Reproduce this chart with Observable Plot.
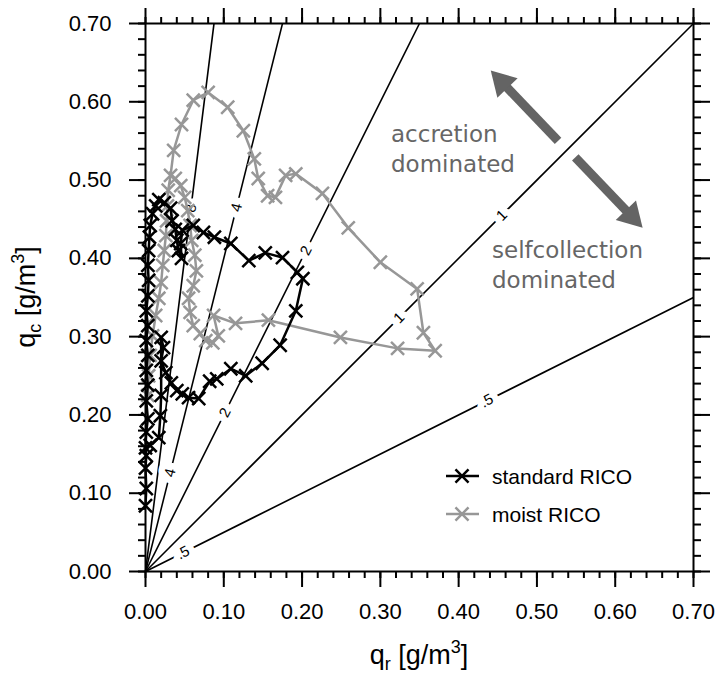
<!DOCTYPE html>
<html><head><meta charset="utf-8">
<script src="https://cdn.jsdelivr.net/npm/d3@7"></script>
<script src="https://cdn.jsdelivr.net/npm/@observablehq/plot@0.6"></script>
<style>body{margin:0;background:#fff} #chart{width:717px;height:679px}</style>
</head><body><div id="chart"></div>
<script>
// ---- data (g/m^3) ----
const standardQr = [0.000,0.001,0.000,0.001,0.000,0.001,0.003,0.001,0.003,0.001,0.003,0.001,0.003,0.001,0.003,0.004,0.003,0.004,0.005,0.006,0.009,0.013,0.017,0.024,0.032,0.034,0.038,0.040,0.042,0.046,0.045,0.047,0.061,0.074,0.088,0.109,0.132,0.153,0.175,0.194,0.201,0.192,0.172,0.149,0.128,0.109,0.091,0.082,0.068,0.055,0.047,0.040,0.033,0.026,0.020,0.023,0.020,0.020,0.019,0.017,0.006];
const standardQc = [0.084,0.106,0.132,0.148,0.158,0.178,0.195,0.218,0.238,0.257,0.276,0.295,0.314,0.333,0.352,0.372,0.391,0.410,0.427,0.442,0.457,0.467,0.475,0.471,0.464,0.448,0.437,0.423,0.410,0.400,0.419,0.436,0.442,0.433,0.427,0.419,0.397,0.407,0.401,0.382,0.374,0.333,0.289,0.266,0.250,0.259,0.246,0.243,0.221,0.222,0.227,0.231,0.241,0.254,0.269,0.286,0.299,0.225,0.199,0.171,0.161];
const moistQr = [0.003,0.004,0.006,0.009,0.013,0.017,0.020,0.022,0.024,0.026,0.027,0.028,0.029,0.032,0.036,0.046,0.061,0.080,0.105,0.125,0.139,0.144,0.156,0.166,0.179,0.192,0.226,0.259,0.300,0.347,0.355,0.370,0.322,0.249,0.157,0.115,0.087,0.093,0.086,0.077,0.070,0.061,0.057,0.055,0.061,0.065,0.063,0.059,0.057,0.054,0.050,0.045,0.038];
const moistQc = [0.225,0.250,0.276,0.301,0.327,0.349,0.369,0.391,0.410,0.429,0.448,0.467,0.487,0.506,0.538,0.571,0.602,0.612,0.593,0.563,0.527,0.502,0.480,0.478,0.506,0.508,0.483,0.439,0.395,0.361,0.305,0.282,0.285,0.299,0.321,0.317,0.327,0.301,0.292,0.295,0.304,0.314,0.331,0.349,0.365,0.384,0.404,0.423,0.442,0.461,0.478,0.493,0.502];

// ratio lines qc = k * qr and their labels
const ratios = [0.5, 1, 2, 4, 8];
const ratioLabelK  = [0.5, 0.5, 1, 1, 2, 2, 4, 4, 8];
const ratioLabelQc = [0.024, 0.218, 0.324, 0.455, 0.203, 0.410, 0.126, 0.465, 0.464];

const majorTicks = [0, 0.1, 0.2, 0.3, 0.4, 0.5, 0.6, 0.7];
const minorTicks = d3.range(0, 36).map(i => +(i * 0.02).toFixed(2)).filter(v => v <= 0.7);

// annotation arrows (tail -> tip)
const arrowTailQr = [0.527, 0.549];
const arrowTailQc = [0.550, 0.529];
const arrowTipQr  = [0.441, 0.635];
const arrowTipQc  = [0.640, 0.439];

const seriesNames = ["standard RICO", "moist RICO"];
const seriesColors = ["#000000", "#979797"];
const annotationLines = [["accretion", "dominated"], ["selfcollection", "dominated"]];

// ---- layout ----
const W = 717, H = 679, mL = 145, mR = 24, mT = 23, mB = 108;
const pxPerUnit = (W - mL - mR) / 0.7;
const fontSans = "'Liberation Sans', Arial, Helvetica, sans-serif";

// arrow geometry (data units)
const headSide = 28;
const triY = headSide / (2 * Math.sqrt(3));
const triSize = triY * triY * Math.sqrt(3) * 3;
const triR = Math.sqrt(triSize / Math.PI);
const arrows = arrowTailQr.map((_, i) => {
  const dx = arrowTipQr[i] - arrowTailQr[i], dy = arrowTipQc[i] - arrowTailQc[i];
  const len = Math.hypot(dx, dy);
  const ux = dx / len, uy = dy / len;
  const c = 2 * triY / pxPerUnit, b = 2.6 * triY / pxPerUnit;
  return {
    x1: arrowTailQr[i], y1: arrowTailQc[i],
    x2: arrowTipQr[i] - ux * b, y2: arrowTipQc[i] - uy * b,
    cx: arrowTipQr[i] - ux * c, cy: arrowTipQc[i] - uy * c,
    rot: Math.atan2(dx, dy) * 180 / Math.PI
  };
});

const std = standardQr.map((x, i) => ({x, y: standardQc[i]}));
const moist = moistQr.map((x, i) => ({x, y: moistQc[i]}));
const labels = ratioLabelK.map((k, i) => ({k, y: ratioLabelQc[i], x: ratioLabelQc[i] / k}));
const fmtK = k => k === 0.5 ? ".5" : String(k);

const axisCommon = {strokeWidth: 2, label: null, fontSize: 22, fontFamily: fontSans};
const noText = () => "";

const chart = Plot.plot({
  width: W, height: H,
  marginLeft: mL, marginRight: mR, marginTop: mT, marginBottom: mB,
  x: {domain: [0, 0.7]},
  y: {domain: [0, 0.7]},
  style: {fontFamily: fontSans, fontSize: "22px", color: "black", background: "white"},
  marks: [
    Plot.link(ratios, {x1: 0, y1: 0, x2: k => k <= 1 ? 0.7 : 0.7 / k, y2: k => k <= 1 ? 0.7 * k : 0.7, stroke: "black", strokeWidth: 1.6}),
    Plot.text(labels, {x: "x", y: "y", text: d => fmtK(d.k), rotate: d => -Math.atan(d.k) * 180 / Math.PI,
      fill: "black", stroke: "white", strokeWidth: 13, fontSize: 15, fontFamily: fontSans}),
    Plot.line(moist, {x: "x", y: "y", stroke: seriesColors[1], strokeWidth: 2.5}),
    Plot.dot(moist, {x: "x", y: "y", symbol: "times", r: 6, stroke: seriesColors[1], strokeWidth: 2.5}),
    Plot.line(std, {x: "x", y: "y", stroke: seriesColors[0], strokeWidth: 2.5}),
    Plot.dot(std, {x: "x", y: "y", symbol: "times", r: 6, stroke: seriesColors[0], strokeWidth: 2.5}),
    Plot.link(arrows, {x1: "x1", y1: "y1", x2: "x2", y2: "y2", stroke: "#646464", strokeWidth: 9, strokeLinecap: "butt"}),
    Plot.dot(arrows, {x: "cx", y: "cy", symbol: "triangle", r: triR, fill: "#646464", stroke: null, rotate: "rot"}),
    Plot.axisX(majorTicks, {anchor: "bottom", tickSize: 16, tickPadding: 16, tickFormat: d3.format(".2f"), ...axisCommon}),
    Plot.axisX(minorTicks, {anchor: "bottom", tickSize: 7, tickFormat: noText, ...axisCommon}),
    Plot.axisX(majorTicks, {anchor: "top", tickSize: 16, tickFormat: noText, ...axisCommon}),
    Plot.axisX(minorTicks, {anchor: "top", tickSize: 7, tickFormat: noText, ...axisCommon}),
    Plot.axisY(majorTicks, {anchor: "left", tickSize: 16, tickPadding: 18, tickFormat: d3.format(".2f"), ...axisCommon}),
    Plot.axisY(minorTicks, {anchor: "left", tickSize: 7, tickFormat: noText, ...axisCommon}),
    Plot.axisY(majorTicks, {anchor: "right", tickSize: 16, tickFormat: noText, ...axisCommon}),
    Plot.axisY(minorTicks, {anchor: "right", tickSize: 7, tickFormat: noText, ...axisCommon}),
    Plot.frame({stroke: "black", strokeWidth: 2})
  ]
});
document.getElementById("chart").appendChild(chart);

// ---- titles, annotations, legend ----
const svg = d3.select(chart);
function title(x, y, sub, rot) {
  const t = svg.append("text").attr("x", x).attr("y", y).attr("text-anchor", "middle")
    .attr("font-family", fontSans).attr("font-size", 27).attr("fill", "black");
  if (rot) t.attr("transform", `rotate(-90 ${x} ${y})`);
  t.append("tspan").text("q");
  t.append("tspan").attr("font-size", 18).attr("dy", 6).text(sub);
  t.append("tspan").attr("dy", -6).text(" [g/m");
  t.append("tspan").attr("font-size", 18).attr("dy", -11).text("3");
  t.append("tspan").attr("dy", 11).text("]");
}
title(419, 664, "r", false);
title(35, 297, "c", true);

const annX = [391, 492], annY = [142, 258];
annotationLines.forEach((lines, i) => {
  lines.forEach((s, j) => {
    svg.append("text").attr("x", annX[i]).attr("y", annY[i] + j * 30).attr("text-anchor", "start")
      .attr("font-family", "'DejaVu Sans', Verdana, sans-serif").attr("font-size", 23)
      .attr("fill", "#666666").text(s);
  });
});

const legY = [476, 514];
seriesNames.forEach((name, i) => {
  const g = svg.append("g").attr("stroke", seriesColors[i]).attr("stroke-width", 2.5).attr("fill", "none");
  g.append("line").attr("x1", 446).attr("x2", 479).attr("y1", legY[i]).attr("y2", legY[i]);
  g.append("path").attr("transform", `translate(462,${legY[i]})`).attr("d", d3.symbol(d3.symbolTimes, Math.PI * 36)());
  svg.append("text").attr("x", 492).attr("y", legY[i] + 8).attr("text-anchor", "start").attr("font-family", fontSans)
    .attr("font-size", 21).attr("fill", "black").text(name);
});
</script>
</body></html>
